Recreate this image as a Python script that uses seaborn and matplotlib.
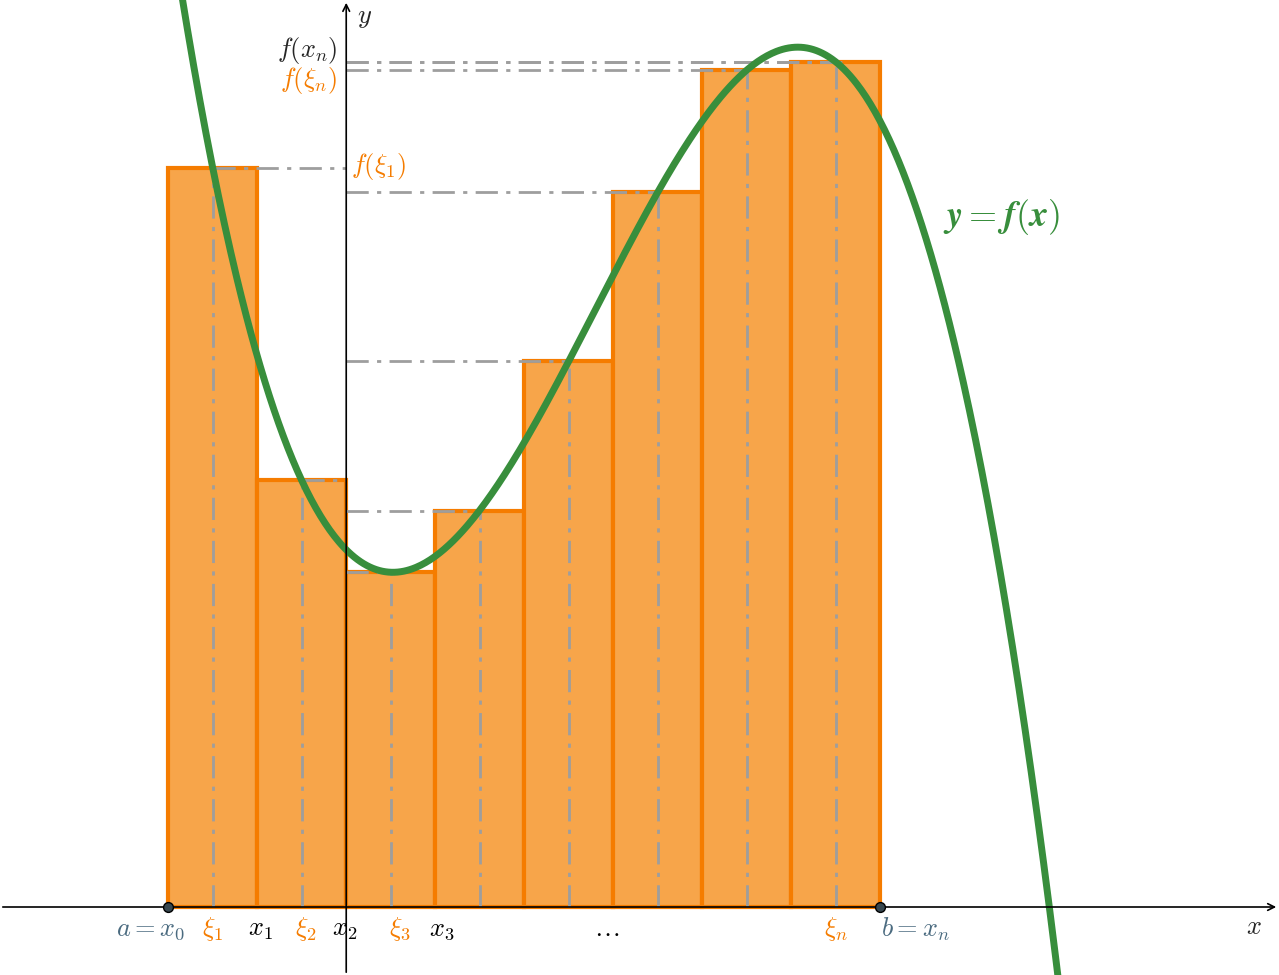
import numpy as np
import matplotlib
matplotlib.use("Agg")
import matplotlib.pyplot as plt
import seaborn as sns

sns.set_theme(style="white")
plt.rcParams['mathtext.fontset'] = 'cm'

edges = [-2, -1, 0, 1, 2, 3, 4, 5, 6]
xi = [-1.5, -0.5, 0.5, 1.5, 2.5, 3.5, 4.5, 5.5]
heights = [7.39, 4.27, 3.35, 3.96, 5.46, 7.15, 8.37, 8.45]
xlabels = [r"$a=x_0$", r"$\xi_1$", r"$x_1$", r"$\xi_2$", r"$x_2$", r"$\xi_3$", r"$x_3$", r"$\ldots$", r"$\xi_n$", r"$b=x_n$"]

ORANGE = "#F57C00"; FILL = "#F7A54A"; GREEN = "#388E3C"; GRAY = "#9E9E9E"; SLATE = "#4B6B80"

fig = plt.figure(figsize=(12.79, 9.75), dpi=100)
ax = fig.add_axes([0, 0, 1, 1])
ax.set_xlim(-3.89, 10.48); ax.set_ylim(-0.68, 9.07)
ax.axis("off")

lefts = edges[:-1]
ax.bar(lefts, heights, width=1, align="edge", color=FILL, edgecolor=ORANGE, linewidth=3, zorder=2)

coef = np.polyfit(xi, heights, 3)
xs = np.linspace(-2.2, 8.2, 600)
ax.plot(xs, np.polyval(coef, xs), color=GREEN, lw=5, zorder=5)

dd = dict(color=GRAY, lw=2, ls=(0, (8, 3, 1.5, 3)), zorder=4)
for x, h in zip(xi, heights):
    ax.plot([x, x], [0, h], **dd)
    ax.plot([0, x] if x > 0 else [x, 0], [h, h], **dd)
ax.plot([0, 5.66], [8.45, 8.45], **dd)

ax.annotate("", xy=(10.48, 0), xytext=(-3.89, 0), arrowprops=dict(arrowstyle="->", color="black", lw=1.2), zorder=6)
ax.annotate("", xy=(0, 9.07), xytext=(0, -0.68), arrowprops=dict(arrowstyle="->", color="black", lw=1.2), zorder=6)
ax.scatter([-2, 6], [0, 0], s=50, color="#37474F", edgecolor="black", zorder=7)

fs = 19
ty = -0.22
pos = [(-2.2, SLATE), (-1.5, ORANGE), (-0.96, "black"), (-0.45, ORANGE), (-0.02, "black"),
       (0.6, ORANGE), (1.07, "black"), (2.93, "black"), (5.5, ORANGE), (6.4, SLATE)]
for (x, c), lab in zip(pos, xlabels):
    ax.text(x, ty, lab, color=c, fontsize=fs, ha="center", va="center")
ax.text(10.2, -0.2, r"$x$", fontsize=fs, ha="center", va="center")
ax.text(0.12, 8.9, r"$y$", fontsize=fs, ha="left", va="center")
ax.text(-0.1, 8.57, r"$f(x_n)$", fontsize=fs, ha="right", va="center")
ax.text(-0.1, 8.27, r"$f(\xi_n)$", fontsize=fs, ha="right", va="center", color=ORANGE)
ax.text(0.05, 7.4, r"$f(\xi_1)$", fontsize=fs, ha="left", va="center", color=ORANGE)
ax.text(6.7, 6.9, r"$\boldsymbol{y=f(x)}$", fontsize=26, ha="left", va="center", color=GREEN)

fig.savefig("out.png", dpi=100)
